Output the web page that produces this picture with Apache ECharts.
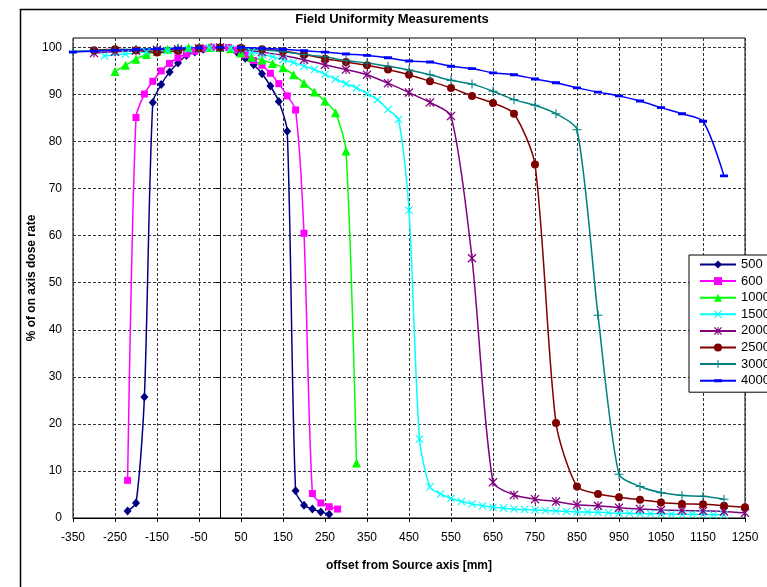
<!DOCTYPE html>
<html>
<head>
<meta charset="utf-8">
<script src="https://cdn.jsdelivr.net/npm/echarts@6/dist/echarts.min.js"></script>
<style>
  html, body { margin: 0; padding: 0; background: #fff; }
  #chart { width: 767px; height: 587px; }
</style>
</head>
<body>
<div id="chart"></div>
<script>
// tick labels
const xTicks = [-350, -250, -150, -50, 50, 150, 250, 350, 450, 550, 650, 750, 850, 950, 1050, 1150, 1250];
const yTicks = [0, 10, 20, 30, 40, 50, 60, 70, 80, 90, 100];

// series data (offset in mm, % of on axis dose rate)
const x500 = [-220, -200, -180, -160, -140, -120, -100, -80, -60, -40, -20, 0, 20, 40, 60, 80, 100, 120, 140, 160, 180, 200, 220, 240, 260];
const y500 = [1.5, 3.2, 25.7, 88.3, 92.1, 94.8, 96.7, 98.3, 99.0, 99.6, 100, 100, 99.8, 99.0, 97.7, 96.3, 94.4, 91.8, 88.5, 82.2, 5.8, 2.7, 1.9, 1.3, 0.8];

const x600 = [-220, -200, -180, -160, -140, -120, -100, -80, -60, -40, -20, 0, 20, 40, 60, 80, 100, 120, 140, 160, 180, 200, 220, 240, 260, 280];
const y600 = [8.0, 85.1, 90.1, 92.8, 95.0, 96.6, 97.8, 98.6, 99.2, 99.7, 100, 100, 100, 99.4, 98.4, 97.2, 96.2, 94.5, 92.3, 89.7, 86.7, 60.5, 5.2, 3.2, 2.4, 1.9];

const x1000 = [-250, -225, -200, -175, -150, -125, -100, -75, -50, -25, 0, 25, 50, 75, 100, 125, 150, 175, 200, 225, 250, 275, 300, 325];
const y1000 = [94.9, 96.2, 97.5, 98.5, 99.2, 99.6, 99.8, 100, 100, 100, 100, 99.7, 98.8, 97.9, 97.3, 96.6, 95.7, 94.2, 92.4, 90.5, 88.6, 86.1, 78.0, 11.7];

const x1500 = [-275, -225, -175, -125, -75, -25, 0, 25, 50, 75, 100, 125, 150, 175, 200, 225, 250, 275, 300, 325, 350, 375, 400, 425, 450, 475, 500, 525, 550, 575, 600, 625, 650, 675, 700, 725, 750, 775, 800, 825, 850, 875, 900, 925, 950, 975, 1000, 1025, 1050, 1075, 1100, 1125, 1150, 1175, 1200];
const y1500 = [98.2, 98.6, 99.0, 99.3, 99.6, 99.9, 100, 99.8, 99.5, 99.0, 98.5, 98.0, 97.4, 96.8, 96.0, 95.3, 94.3, 93.3, 92.3, 91.4, 90.2, 88.9, 86.8, 84.7, 65.4, 16.8, 6.6, 5.1, 4.2, 3.5, 3.0, 2.6, 2.3, 2.1, 1.9, 1.8, 1.7, 1.6, 1.5, 1.4, 1.3, 1.3, 1.2, 1.1, 1.0, 1.0, 0.9, 0.9, 0.9, 0.8, 0.8, 0.8, 0.8, 0.7, 0.7];

const x2000 = [-300, -250, -200, -150, -100, -50, 0, 50, 100, 150, 200, 250, 300, 350, 400, 450, 500, 550, 600, 650, 700, 750, 800, 850, 900, 950, 1000, 1050, 1100, 1150, 1200, 1250];
const y2000 = [98.8, 99.1, 99.3, 99.5, 99.6, 99.8, 100, 99.6, 99.0, 98.3, 97.4, 96.3, 95.3, 94.2, 92.4, 90.4, 88.3, 85.4, 55.2, 7.6, 4.9, 4.0, 3.5, 2.8, 2.6, 2.2, 1.9, 1.7, 1.6, 1.5, 1.4, 1.1];

const x2500 = [-300, -250, -200, -150, -100, -50, 0, 50, 100, 150, 200, 250, 300, 350, 400, 450, 500, 550, 600, 650, 700, 750, 800, 850, 900, 950, 1000, 1050, 1100, 1150, 1200, 1250];
const y2500 = [99.4, 99.6, 99.4, 98.9, 99.3, 99.8, 100, 99.9, 99.6, 99.2, 98.5, 97.6, 96.9, 96.2, 95.3, 94.2, 92.8, 91.4, 89.7, 88.2, 85.9, 75.1, 20.2, 6.7, 5.1, 4.4, 3.9, 3.3, 3.0, 2.9, 2.6, 2.3];

const x3000 = [-350, -300, -250, -200, -150, -100, -50, 0, 50, 100, 150, 200, 250, 300, 350, 400, 450, 500, 550, 600, 650, 700, 750, 800, 850, 900, 950, 1000, 1050, 1100, 1150, 1200];
const y3000 = [99.2, 99.3, 99.5, 99.6, 99.7, 99.8, 99.9, 100, 99.8, 99.5, 99.1, 98.5, 98.0, 97.2, 96.7, 96.0, 95.2, 94.2, 93.0, 92.2, 90.7, 88.9, 87.7, 85.9, 82.5, 43.1, 9.3, 6.7, 5.4, 4.8, 4.6, 4.0];

const x4000 = [-350, -300, -250, -200, -150, -100, -50, 0, 50, 100, 150, 200, 250, 300, 350, 400, 450, 500, 550, 600, 650, 700, 750, 800, 850, 900, 950, 1000, 1050, 1100, 1150, 1200];
const y4000 = [99.0, 99.2, 99.4, 99.5, 99.7, 99.8, 99.9, 100, 100, 99.8, 99.6, 99.3, 99.0, 98.6, 98.3, 97.8, 97.1, 96.9, 96.0, 95.5, 94.6, 94.2, 93.3, 92.5, 91.4, 90.5, 89.7, 88.6, 87.2, 85.9, 84.3, 72.7];

const FONT = '"Liberation Sans", Arial, sans-serif';
const X_MARK = 'path://M0,1L1,0L5,4L9,0L10,1L6,5L10,9L9,10L5,6L1,10L0,9L4,5Z';
const STAR_MARK = 'path://M0,1L1,0L5,4L9,0L10,1L6,5L10,9L9,10L5,6L1,10L0,9L4,5Z M4.4,0L5.6,0L5.6,10L4.4,10Z';
const PLUS_MARK = 'path://M4.4,0L5.6,0L5.6,4.4L10,4.4L10,5.6L5.6,5.6L5.6,10L4.4,10L4.4,5.6L0,5.6L0,4.4L4.4,4.4Z';
// short dash inside a square box (tiny corner specks keep the box square)
const DASH_MARK = 'path://M0,0L0.01,0L0.01,0.01Z M0,3.2L10,3.2L10,6.8L0,6.8Z M9.99,10L10,10L10,9.99Z';

function pairs(xs, ys) {
  return xs.map((x, i) => [x, ys[i]]);
}

function lineSeries(name, xs, ys, color, symbol, symbolSize) {
  return {
    name: name,
    type: 'line',
    data: pairs(xs, ys),
    smooth: 0.25,
    symbol: symbol,
    symbolSize: symbolSize,
    showAllSymbol: true,
    lineStyle: { color: color, width: 1.5 },
    itemStyle: { color: color, borderWidth: 0 },
    emphasis: { disabled: true },
  };
}

const chart = echarts.init(document.getElementById('chart'));

const series = [
  lineSeries('500', x500, y500, '#000080', 'diamond', [8, 9]),
  lineSeries('600', x600, y600, '#ff00ff', 'rect', 7),
  lineSeries('1000', x1000, y1000, '#00ff00', 'triangle', 9),
  lineSeries('1500', x1500, y1500, '#00ffff', X_MARK, 8),
  lineSeries('2000', x2000, y2000, '#800080', STAR_MARK, 9),
  lineSeries('2500', x2500, y2500, '#800000', 'circle', 8),
  lineSeries('3000', x3000, y3000, '#008080', PLUS_MARK, 9),
  lineSeries('4000', x4000, y4000, '#0000ff', DASH_MARK, 8),
];

// vertical line at offset 0
series[0].markLine = {
  silent: true,
  symbol: 'none',
  label: { show: false },
  lineStyle: { color: '#000', width: 1, type: 'solid' },
  data: [{ xAxis: 0 }],
};

chart.setOption({
  animation: false,
  backgroundColor: '#fff',
  textStyle: { fontFamily: FONT },
  graphic: [
    {
      type: 'rect',
      left: 18,
      top: 7,
      silent: true,
      z: -10,
      shape: { width: 800, height: 700 },
      style: { fill: 'none', stroke: '#000', lineWidth: 1.5 },
    },
    {
      type: 'text',
      x: 392,
      y: 19,
      silent: true,
      style: {
        text: 'Field Uniformity Measurements',
        font: 'bold 13px ' + FONT,
        fill: '#000',
        textAlign: 'center',
        textVerticalAlign: 'middle',
      },
    },
  ],
  grid: {
    left: 73,
    right: 22,
    top: 38,
    bottom: 69,
    show: true,
    borderColor: '#000',
    borderWidth: 1,
    backgroundColor: 'transparent',
  },
  legend: {
    orient: 'vertical',
    left: 689,
    top: 255,
    backgroundColor: '#fff',
    borderColor: '#000',
    borderWidth: 1,
    borderRadius: 0,
    padding: [3, 6, 5, 10],
    itemWidth: 36,
    itemHeight: 10,
    itemGap: 3.6,
    textStyle: { fontSize: 13, color: '#000', fontFamily: FONT },
    data: ['500', '600', '1000', '1500', '2000', '2500', '3000', '4000'],
  },
  xAxis: {
    type: 'value',
    min: -350,
    max: 1250,
    name: 'offset from Source axis [mm]',
    nameLocation: 'middle',
    nameGap: 42,
    nameMoveOverlap: false,
    nameTextStyle: { fontSize: 12, fontWeight: 'bold', color: '#000', fontFamily: FONT },
    axisLine: { show: true, onZero: false, lineStyle: { color: '#000', width: 1 } },
    axisTick: { show: true, length: 4, customValues: xTicks, lineStyle: { color: '#000' } },
    axisLabel: {
      customValues: xTicks,
      margin: 14,
      fontSize: 12,
      color: '#000',
      fontFamily: FONT,
      formatter: (v) => String(v),
    },
    splitLine: { show: true, lineStyle: { color: '#333', width: 1, type: [3, 2] } },
  },
  yAxis: {
    type: 'value',
    min: 0,
    max: 102,
    name: '% of on axis dose rate',
    nameLocation: 'middle',
    nameGap: 35,
    nameMoveOverlap: false,
    nameTextStyle: { fontSize: 12, fontWeight: 'bold', color: '#000', fontFamily: FONT },
    axisLine: { show: true, lineStyle: { color: '#000', width: 1 } },
    axisTick: { show: true, length: 4, customValues: yTicks, lineStyle: { color: '#000' } },
    axisLabel: {
      customValues: yTicks,
      margin: 11,
      fontSize: 12,
      color: '#000',
      fontFamily: FONT,
      formatter: (v) => String(v),
    },
    splitLine: { show: true, lineStyle: { color: '#333', width: 1, type: [3, 2] } },
  },
  series: series,
});
</script>
</body>
</html>
